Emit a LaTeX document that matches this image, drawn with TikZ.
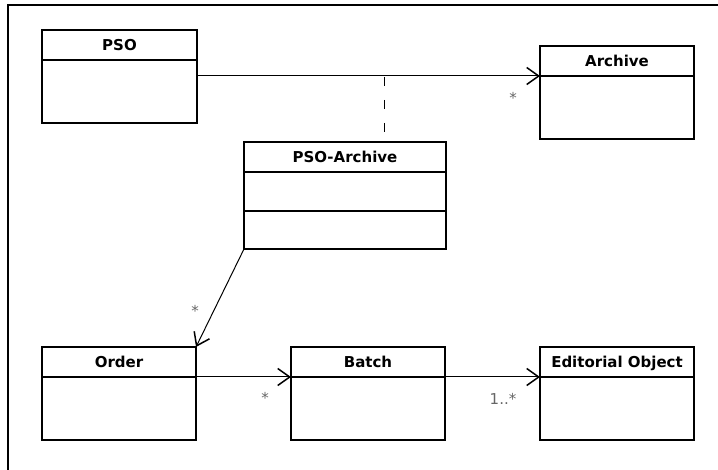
\documentclass[tikz,border=0pt]{standalone}
\usepackage{fontspec}
\setmainfont{DejaVu Sans}
\usetikzlibrary{arrows.meta}
\usetikzlibrary{positioning}
\tikzset{
    head/.style={
        draw, line width=1.6pt, inner sep=0pt, outer sep=0pt, anchor=north west,
        minimum height=30pt, text height=12pt, text depth=0pt,
        font=\bfseries\fontsize{15}{17}\selectfont
    },
    part/.style={
        draw, line width=1.6pt, inner sep=0pt, outer sep=0pt, anchor=north,
        minimum height=#1
    },
    assoc/.style={
        line width=1pt,
        -{Straight Barb[length=12pt,width=17pt,line width=1.5pt]}
    },
    mult/.style={text=gray!80!black, inner sep=0pt, font=\fontsize{15}{17}\selectfont}
}
% name, x, y, width, title, body height
\newcommand{\umlclass}[6] {
	\node[head, minimum width=#4pt] (#1) at (#2,#3) {#5};
	\node[part=#6pt, minimum width=#4pt] (#1-b) at (#1.south) {};
}

\begin{document}
\begin{tikzpicture}[x=1pt,y=-1pt]
		\useasboundingbox (0,0) rectangle (718,470);

		% frame
		\draw[line width=2pt] (8,475) -- (8,5) -- (725,5);

		% classes
		\umlclass{pso}{42}{30}{155}{PSO}{63}
		\umlclass{archive}{540}{46}{154}{Archive}{63}
		\umlclass{psoa}{244}{142}{202}{PSO-Archive}{39}
		\node[part=38pt, minimum width=202pt] (psoa-c) at (psoa-b.south) {};
		\umlclass{order}{42}{347}{154}{Order}{63}
		\umlclass{batch}{291}{347}{154}{Batch}{63}
		\umlclass{eo}{540}{347}{154}{Editorial Object}{63}

		% PSO -- Archive with association class
		\draw[assoc] (pso-b.east |- archive.south west) -- (archive.south west);
		\coordinate (assocmid) at (384,77);
		\draw[line width=1pt, dash pattern=on 9pt off 14pt] (assocmid) -- (assocmid |- psoa.north);
		\node[mult] (m1) at ([xshift=-27pt,yshift=-22pt]archive.south west) {*};

		% PSO-Archive -> Order
		\draw[assoc] (psoa-c.south west) -- (order.north east);
		\node[mult] (m2) at ([xshift=-1pt,yshift=36pt]order.north east) {*};

		% Order -> Batch -> Editorial Object
		\draw[assoc] (order.south east) -- (batch.south west);
		\node[mult] (m3) at ([xshift=-26pt,yshift=-21pt]batch.south west) {*};
		\draw[assoc] (batch.south east) -- (eo.south west);
		\node[mult] (m4) at ([xshift=-37pt,yshift=-22pt]eo.south west) {1..*};

\end{tikzpicture}
\end{document}
